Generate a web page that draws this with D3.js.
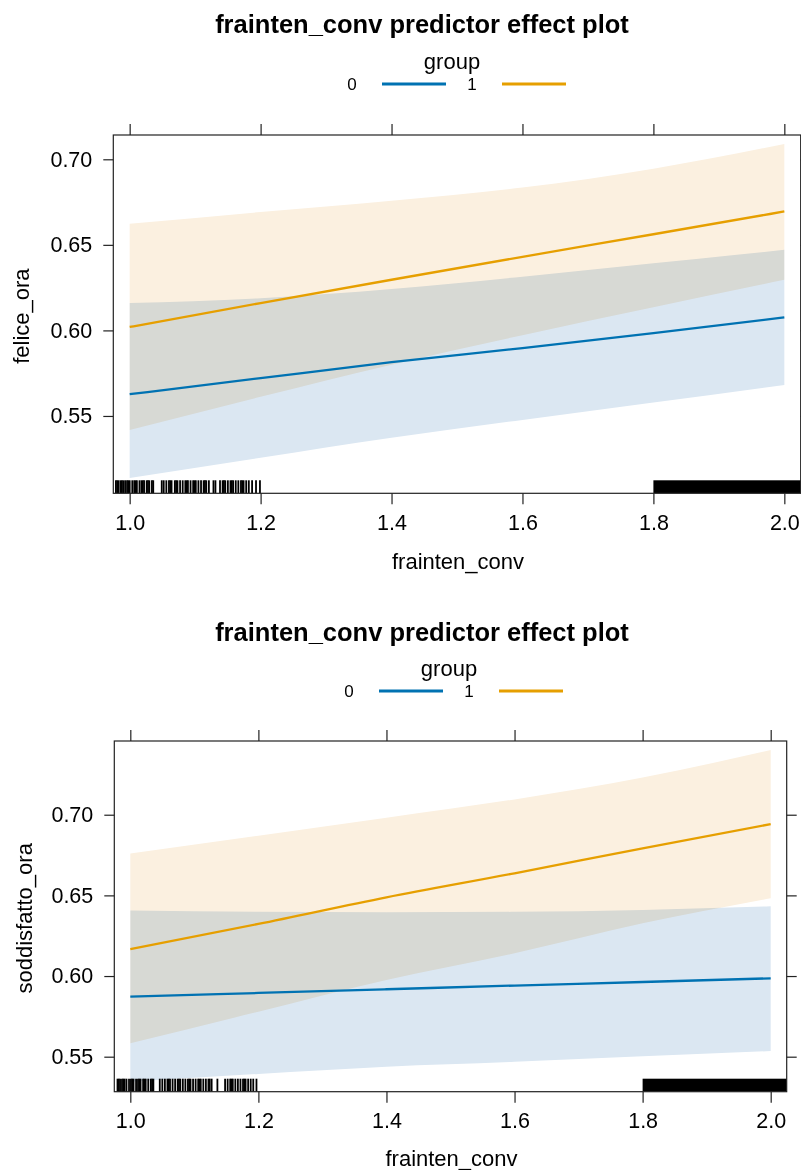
<!DOCTYPE html>
<html>
<head>
<meta charset="utf-8">
<script src="https://cdn.jsdelivr.net/npm/d3@7"></script>
<style>
  html, body { margin: 0; padding: 0; background: #fff; }
  svg { display: block; font-family: "Liberation Sans", Arial, Helvetica, sans-serif; }
</style>
</head>
<body>
<svg id="chart" width="801" height="1170"></svg>
<script>
// ---- data -------------------------------------------------------------
const groups = ["0", "1"];
const xTicks = [1.0, 1.2, 1.4, 1.6, 1.8, 2.0];
const yTicks = [0.55, 0.60, 0.65, 0.70];
const xEval = [1.0, 1.2, 1.4, 1.6, 1.8, 2.0];

// felice_ora effects (fit, lower, upper) by group
const feliceFit0 = [0.5627, 0.5721, 0.5814, 0.5897, 0.5984, 0.6076];
const feliceLo0  = [0.5138, 0.5256, 0.5373, 0.5477, 0.5578, 0.5681];
const feliceHi0  = [0.6160, 0.6188, 0.6242, 0.6314, 0.6392, 0.6471];
const feliceFit1 = [0.6020, 0.6160, 0.6296, 0.6430, 0.6562, 0.6695];
const feliceLo1  = [0.5418, 0.5612, 0.5800, 0.5972, 0.6135, 0.6296];
const feliceHi1  = [0.6623, 0.6692, 0.6758, 0.6835, 0.6945, 0.7089];

// soddisfatto_ora effects (fit, lower, upper) by group
const soddFit0 = [0.5872, 0.5895, 0.5918, 0.5941, 0.5963, 0.5986];
const soddLo0  = [0.5345, 0.5393, 0.5438, 0.5468, 0.5502, 0.5535];
const soddHi0  = [0.6407, 0.6398, 0.6395, 0.6398, 0.6410, 0.6432];
const soddFit1 = [0.6167, 0.6323, 0.6488, 0.6637, 0.6792, 0.6942];
const soddLo1  = [0.5583, 0.5779, 0.5976, 0.6141, 0.6327, 0.6482];
const soddHi1  = [0.6760, 0.6870, 0.6982, 0.7095, 0.7230, 0.7401];

// rug of observed frainten_conv values (jittered)
const rugTop = [0.979, 0.981, 0.983, 0.986, 0.988, 0.990, 0.993, 0.996, 0.998, 1.000,
  1.004, 1.007, 1.009, 1.011, 1.015, 1.018, 1.020, 1.022, 1.026, 1.028, 1.030, 1.034,
  1.036, 1.049, 1.052, 1.056, 1.060, 1.062, 1.064, 1.069, 1.071, 1.073, 1.077, 1.081,
  1.085, 1.087, 1.089, 1.093, 1.097, 1.099, 1.101, 1.105, 1.109, 1.113, 1.115, 1.117,
  1.121, 1.128, 1.131, 1.138, 1.142, 1.144, 1.146, 1.150, 1.154, 1.156, 1.158, 1.162,
  1.166, 1.170, 1.172, 1.174, 1.178, 1.182, 1.187, 1.193, 1.199];
const rugBottom = [0.980, 0.982, 0.984, 0.987, 0.989, 0.991, 0.994, 0.998, 1.001, 1.003,
  1.005, 1.009, 1.012, 1.014, 1.016, 1.020, 1.022, 1.024, 1.028, 1.032, 1.034, 1.036,
  1.046, 1.050, 1.054, 1.058, 1.060, 1.062, 1.066, 1.070, 1.074, 1.076, 1.078, 1.082,
  1.086, 1.090, 1.092, 1.094, 1.098, 1.102, 1.106, 1.108, 1.110, 1.114, 1.118, 1.122,
  1.124, 1.127, 1.136, 1.148, 1.152, 1.156, 1.158, 1.160, 1.164, 1.168, 1.172, 1.176,
  1.178, 1.180, 1.184, 1.188, 1.192, 1.197];
// range where observations are packed so tightly the rug is solid
const rugSolid = [1.8, 2.03];

// ---- styling ----------------------------------------------------------
const colors = { "0": "#0072B2", "1": "#E69F00" };
const bandColors = { "0": "#DBE7F2", "1": "#FBF0E0" };
const font = "\"Liberation Sans\", Arial, Helvetica, sans-serif";

const panels = [
  {
    ylab: "felice_ora",
    fit: [feliceFit0, feliceFit1], lo: [feliceLo0, feliceLo1], hi: [feliceHi0, feliceHi1],
    rug: rugTop,
    frame: { left: 113.3, right: 800.7, top: 135, bottom: 493.3 },
    yDomain: [0.5048, 0.7142],
    titleY: 33, groupY: 69, legendY: 84, legendX: 352,
    xlabY: 569, ylabX: 29
  },
  {
    ylab: "soddisfatto_ora",
    fit: [soddFit0, soddFit1], lo: [soddLo0, soddLo1], hi: [soddHi0, soddHi1],
    rug: rugBottom,
    frame: { left: 114.3, right: 786.7, top: 741, bottom: 1091.7 },
    yDomain: [0.5283, 0.7457],
    titleY: 641, groupY: 676, legendY: 691, legendX: 349,
    xlabY: 1166, ylabX: 32
  }
];

const svg = d3.select("#chart");
const xDomain = [0.975, 2.025];

panels.forEach((p, pi) => {
  const f = p.frame;
  const x = d3.scaleLinear().domain(xDomain).range([f.left, f.right]);
  const y = d3.scaleLinear().domain(p.yDomain).range([f.bottom, f.top]);
  const g = svg.append("g");
  const cx = (f.left + f.right) / 2;

  // title
  g.append("text")
    .attr("x", 422).attr("y", p.titleY)
    .attr("text-anchor", "middle")
    .attr("font-size", 25.5).attr("font-weight", "bold")
    .text("frainten_conv predictor effect plot");

  // legend
  g.append("text")
    .attr("x", p.legendX + 100).attr("y", p.groupY)
    .attr("text-anchor", "middle").attr("font-size", 22)
    .text("group");
  groups.forEach((gr, i) => {
    const lx = p.legendX + i * 120;
    g.append("text")
      .attr("x", lx).attr("y", p.legendY + 6)
      .attr("text-anchor", "middle").attr("font-size", 17)
      .text(gr);
    g.append("line")
      .attr("x1", lx + 30).attr("x2", lx + 94)
      .attr("y1", p.legendY).attr("y2", p.legendY)
      .attr("stroke", colors[gr]).attr("stroke-width", 2.8);
  });

  const clipId = "clip" + pi;
  svg.append("clipPath").attr("id", clipId)
    .append("rect")
    .attr("x", f.left).attr("y", f.top)
    .attr("width", f.right - f.left).attr("height", f.bottom - f.top);

  const plot = g.append("g").attr("clip-path", `url(#${clipId})`)
    .style("isolation", "isolate");

  // confidence bands; overlapping parts multiply to a neutral grey
  groups.forEach((gr, i) => {
    const pts = xEval.map((xv, k) => ({ x: xv, lo: p.lo[i][k], hi: p.hi[i][k] }));
    const area = d3.area()
      .x(d => x(d.x)).y0(d => y(d.lo)).y1(d => y(d.hi))
      .curve(d3.curveMonotoneX);
    plot.append("path")
      .datum(pts)
      .attr("d", area)
      .attr("fill", bandColors[gr])
      .style("mix-blend-mode", "multiply");
  });

  // fitted lines
  groups.forEach((gr, i) => {
    const pts = xEval.map((xv, k) => ({ x: xv, v: p.fit[i][k] }));
    const line = d3.line().x(d => x(d.x)).y(d => y(d.v)).curve(d3.curveMonotoneX);
    plot.append("path")
      .datum(pts)
      .attr("d", line)
      .attr("fill", "none")
      .attr("stroke", colors[gr]).attr("stroke-width", 2.3);
  });

  // rug
  const rugH = 13;
  plot.selectAll(null)
    .data(p.rug)
    .join("line")
    .attr("x1", d => x(d)).attr("x2", d => x(d))
    .attr("y1", f.bottom - rugH).attr("y2", f.bottom)
    .attr("stroke", "#000").attr("stroke-width", 1.8);
  plot.append("rect")
    .attr("x", x(rugSolid[0]))
    .attr("width", x(rugSolid[1]) - x(rugSolid[0]))
    .attr("y", f.bottom - rugH).attr("height", rugH)
    .attr("fill", "#000");

  // axes: labelled on left and bottom, tick marks on all four sides
  const axLeft = d3.axisLeft(y).tickValues(yTicks).tickSize(10).tickPadding(11)
    .tickFormat(d3.format(".2f"));
  const axBottom = d3.axisBottom(x).tickValues(xTicks).tickSize(11).tickPadding(10)
    .tickFormat(d3.format(".1f"));
  const axTop = d3.axisTop(x).tickValues(xTicks).tickSize(11).tickFormat("");
  const axRight = d3.axisRight(y).tickValues(yTicks).tickSize(10).tickFormat("");

  const styleAxis = sel => {
    sel.select(".domain").remove();
    sel.selectAll(".tick line").attr("stroke", "#222").attr("stroke-width", 1.2);
    sel.selectAll(".tick text").attr("fill", "#000")
      .attr("font-size", 21.5)
      .attr("font-family", font);
  };
  g.append("g").attr("transform", `translate(${f.left},0)`).call(axLeft).call(styleAxis);
  g.append("g").attr("transform", `translate(0,${f.bottom})`).call(axBottom).call(styleAxis);
  g.append("g").attr("transform", `translate(0,${f.top})`).call(axTop).call(styleAxis);
  g.append("g").attr("transform", `translate(${f.right},0)`).call(axRight).call(styleAxis);

  // panel frame
  g.append("rect")
    .attr("x", f.left).attr("y", f.top)
    .attr("width", f.right - f.left).attr("height", f.bottom - f.top)
    .attr("fill", "none").attr("stroke", "#222").attr("stroke-width", 1.2);

  // axis titles
  g.append("text")
    .attr("x", cx + 1).attr("y", p.xlabY)
    .attr("text-anchor", "middle").attr("font-size", 22)
    .text("frainten_conv");
  g.append("text")
    .attr("transform", `translate(${p.ylabX},${(f.top + f.bottom) / 2 + 2}) rotate(-90)`)
    .attr("text-anchor", "middle").attr("font-size", 22)
    .text(p.ylab);
});
</script>
</body>
</html>
